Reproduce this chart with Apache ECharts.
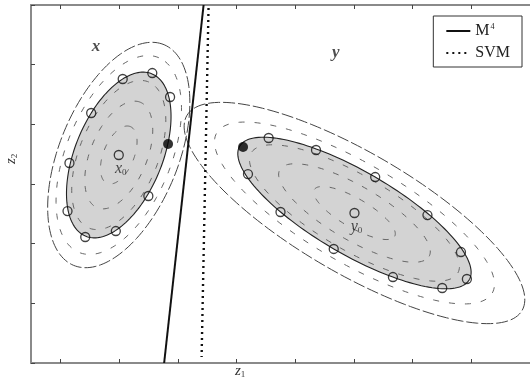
<!DOCTYPE html>
<html>
<head>
<meta charset="utf-8">
<script src="https://cdn.jsdelivr.net/npm/echarts@6/dist/echarts.min.js"></script>
<style>
  html, body { margin: 0; padding: 0; background: #fff; }
  #chart { width: 530px; height: 384px; }
</style>
</head>
<body>
<div id="chart"></div>
<script>
// Ellipse parameters of the two classes (data units): x on the left, y on the right
const classNames = ['x', 'y'];
const centerX = [1.495, 5.510];
const centerY = [3.486, 2.514];
const semiMajor = [1.473, 2.253];
const semiMinor = [0.743, 0.698];
const tiltDeg = [67.3, -29.7];
const outerScale = [1.36, 1.46];
const textureScale = [0.35, 0.65, 0.9, 1.2];

// Samples of class x lying on its boundary
const xSampleX = [1.562, 2.066, 2.369, 1.025, 0.655, 0.622, 0.924, 1.445, 1.999];
const xSampleY = [4.760, 4.860, 4.458, 4.190, 3.352, 2.547, 2.112, 2.212, 2.799];
// Samples of class y lying on its boundary
const ySampleX = [4.048, 4.855, 5.863, 3.696, 4.250, 6.753, 5.157, 7.324, 6.165, 7.005, 7.425];
const ySampleY = [3.771, 3.570, 3.117, 3.167, 2.531, 2.480, 1.911, 1.860, 1.441, 1.257, 1.408];
// Support points (filled)
const supportX = [2.335, 3.612];
const supportY = [3.670, 3.620];

// Separating lines: [x, y] end points
const m4Line = [[2.940, 6.0], [2.268, 0.0]];
const svmLine = [[3.024, 5.95], [2.906, 0.10]];

// Class name positions
const classLabelX = [1.109, 5.191];
const classLabelY = [5.296, 5.195];

// Axis extent and tick positions
const xRange = [0, 8.5];
const yRange = [0, 6];
const xTicks = [0.5, 1.5, 2.5, 3.5, 4.5, 5.5, 6.5, 7.5];

const serif = '"Liberation Serif", "DejaVu Serif", serif';

function ellipseItems(scale) {
  return classNames.map((_, i) => [
    centerX[i], centerY[i],
    semiMajor[i] * scale[i], semiMinor[i] * scale[i], tiltDeg[i]
  ]);
}

function ellipseRenderer(style) {
  return function (params, api) {
    const cx = api.value(0), cy = api.value(1);
    const a = api.value(2), b = api.value(3);
    const th = api.value(4) * Math.PI / 180;
    const pts = [];
    const n = 160;
    for (let k = 0; k <= n; k++) {
      const t = 2 * Math.PI * k / n;
      const ux = a * Math.cos(t), uy = b * Math.sin(t);
      pts.push(api.coord([
        cx + ux * Math.cos(th) - uy * Math.sin(th),
        cy + ux * Math.sin(th) + uy * Math.cos(th)
      ]));
    }
    return { type: style.closed ? 'polygon' : 'polyline', shape: { points: pts }, style: style.s, silent: true };
  };
}

const textureItems = [];
textureScale.forEach(s => {
  ellipseItems([s, s]).forEach(it => textureItems.push(it));
});

const chart = echarts.init(document.getElementById('chart'), null, { renderer: 'canvas' });

const axisLine = { show: true, lineStyle: { color: '#8a8a8a', width: 2 } };
const tickStyle = { show: true, inside: true, length: 4, lineStyle: { color: '#444', width: 1 } };

chart.setOption({
  animation: false,
  backgroundColor: '#fff',
  grid: { left: 31, top: 5, right: -7, bottom: 21 },
  xAxis: [
    { type: 'value', position: 'bottom', min: xRange[0], max: xRange[1],
      axisLine, axisTick: Object.assign({ customValues: xTicks }, tickStyle),
      axisLabel: { show: false }, splitLine: { show: false } },
    { type: 'value', position: 'top', min: xRange[0], max: xRange[1],
      axisLine, axisTick: Object.assign({ customValues: xTicks }, tickStyle),
      axisLabel: { show: false }, splitLine: { show: false } }
  ],
  yAxis: [
    { type: 'value', position: 'left', min: yRange[0], max: yRange[1], interval: 1,
      axisLine, axisTick: tickStyle,
      axisLabel: { show: false }, splitLine: { show: false } }
  ],
  legend: {
    orient: 'vertical', right: 8, top: 16,
    data: ['M4', 'SVM'],
    borderColor: '#333', borderWidth: 1, padding: [7, 12, 6, 12],
    itemWidth: 24, itemHeight: 10, itemGap: 6,
    itemStyle: { opacity: 0 },
    formatter: name => name === 'M4' ? '{t|M}{s|4}' : '{t|SVM}',
    textStyle: {
      color: '#222',
      rich: {
        t: { fontFamily: serif, fontSize: 16, color: '#222' },
        s: { fontFamily: serif, fontSize: 8, color: '#222', verticalAlign: 'top', padding: [0, 0, 8, 1] }
      }
    }
  },
  graphic: [
    { type: 'text', left: 235, top: 364, style: { rich: {
        i: { fontFamily: serif, fontStyle: 'italic', fontSize: 15, fill: '#333' },
        s: { fontFamily: serif, fontSize: 9, fill: '#333', padding: [6, 0, 0, 0] } },
      text: '{i|z}{s|1}' } },
    { type: 'text', x: 4, y: 164, rotation: Math.PI / 2, style: { rich: {
        i: { fontFamily: serif, fontStyle: 'italic', fontSize: 15, fill: '#333' },
        s: { fontFamily: serif, fontSize: 9, fill: '#333', padding: [6, 0, 0, 0] } },
      text: '{i|z}{s|2}' } }
  ],
  series: [
    { // gray inner regions
      type: 'custom', silent: true, z: 1,
      encode: { x: 0, y: 1 },
      data: ellipseItems([1, 1]),
      renderItem: ellipseRenderer({ closed: true, s: { fill: '#d3d3d3', stroke: null } })
    },
    { // dashed texture contours
      type: 'custom', silent: true, z: 2,
      encode: { x: 0, y: 1 },
      data: textureItems,
      renderItem: ellipseRenderer({ closed: false, s: { fill: null, stroke: '#666', lineWidth: 1, lineDash: [6, 10] } })
    },
    { // outer dashed boundaries
      type: 'custom', silent: true, z: 3,
      encode: { x: 0, y: 1 },
      data: ellipseItems(outerScale),
      renderItem: ellipseRenderer({ closed: false, s: { fill: null, stroke: '#444', lineWidth: 1, lineDash: [12, 3] } })
    },
    { // inner boundaries
      type: 'custom', silent: true, z: 3,
      encode: { x: 0, y: 1 },
      data: ellipseItems([1, 1]),
      renderItem: ellipseRenderer({ closed: false, s: { fill: null, stroke: '#222', lineWidth: 1.1 } })
    },
    {
      name: 'M4', type: 'line', z: 5, symbol: 'none',
      data: m4Line,
      lineStyle: { color: '#111', width: 2 },
      itemStyle: { color: '#111' }
    },
    {
      name: 'SVM', type: 'line', z: 5, symbol: 'none',
      data: svmLine,
      lineStyle: { color: '#111', width: 2.4, type: [2, 4] },
      itemStyle: { color: '#111' }
    },
    {
      type: 'scatter', z: 6, symbol: 'circle', symbolSize: 9,
      data: xSampleX.map((v, i) => [v, xSampleY[i]]).concat(ySampleX.map((v, i) => [v, ySampleY[i]])),
      itemStyle: { color: 'rgba(0,0,0,0)', borderColor: '#111', borderWidth: 1.3 }
    },
    {
      type: 'scatter', z: 6, symbol: 'circle', symbolSize: 10,
      data: supportX.map((v, i) => [v, supportY[i]]),
      itemStyle: { color: '#000' }
    },
    { // class centres
      type: 'scatter', z: 6, symbol: 'circle', symbolSize: 9,
      data: centerX.map((v, i) => [v, centerY[i], classNames[i]]),
      itemStyle: { color: 'rgba(0,0,0,0)', borderColor: '#111', borderWidth: 1.3 },
      label: {
        show: true, position: 'bottom', distance: 1, offset: [2, 0],
        formatter: p => '{i|' + p.value[2] + '}{s|0}',
        rich: {
          i: { fontFamily: serif, fontStyle: 'italic', fontSize: 16, color: '#222' },
          s: { fontFamily: serif, fontSize: 9, color: '#222', padding: [7, 0, 0, 0] }
        }
      }
    },
    { // class names
      type: 'scatter', z: 6, symbolSize: 0,
      data: classLabelX.map((v, i) => [v, classLabelY[i], classNames[i]]),
      label: {
        show: true, position: 'inside',
        formatter: p => p.value[2],
        fontFamily: serif, fontStyle: 'italic', fontWeight: 'bold', fontSize: 17, color: '#222'
      }
    }
  ]
});
</script>
</body>
</html>
